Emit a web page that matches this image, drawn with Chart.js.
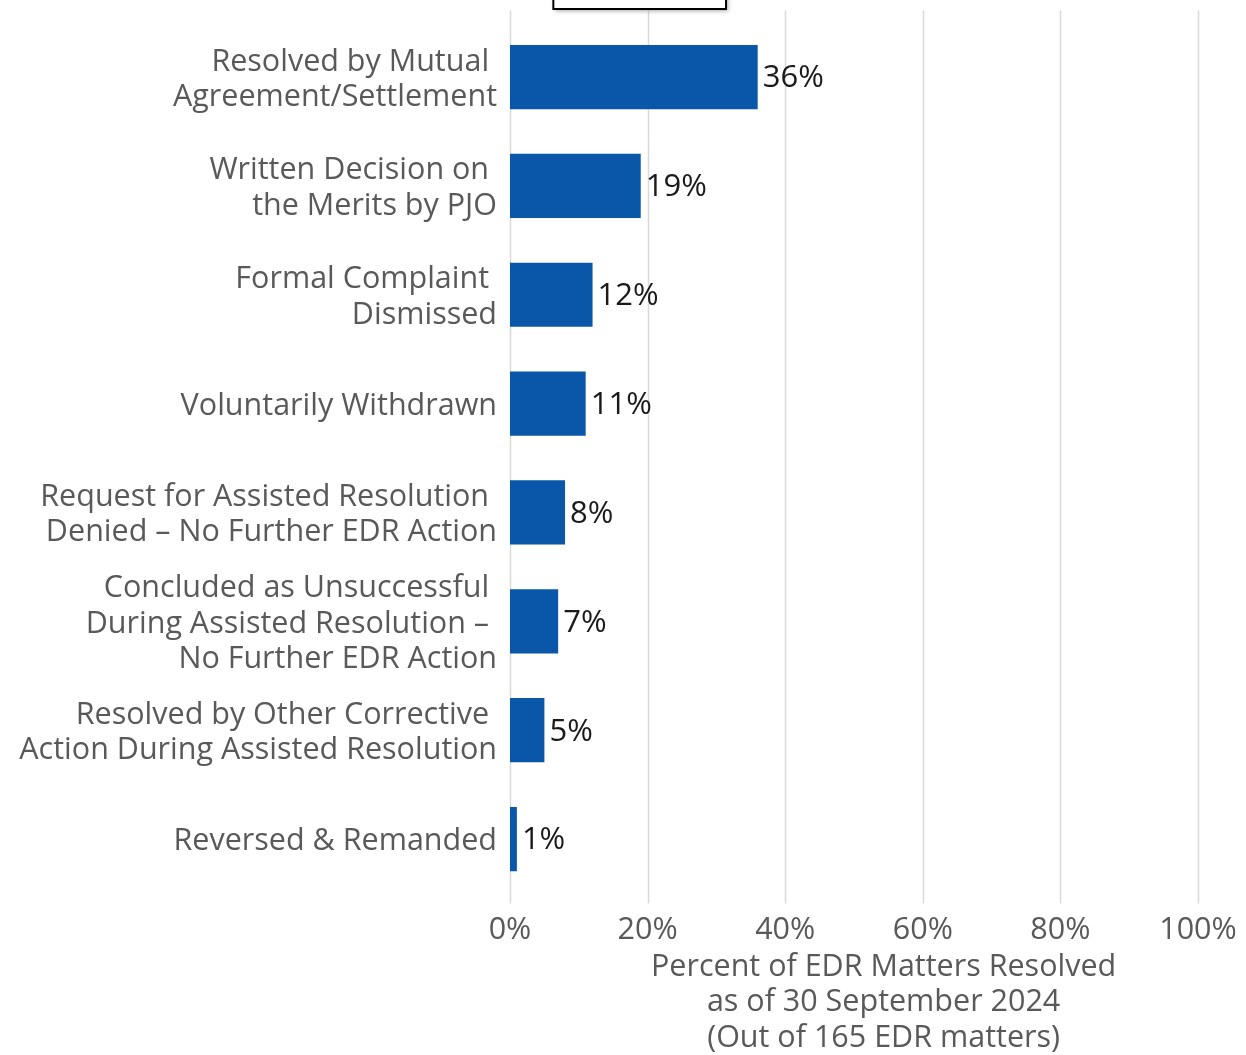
<!DOCTYPE html>
<html>
<head>
<meta charset="utf-8">
<script src="https://cdn.jsdelivr.net/npm/chart.js@4.4.1/dist/chart.umd.min.js"></script>
<style>
  html, body { margin: 0; padding: 0; background: #ffffff; }
  #wrap { width: 1246px; height: 1055px; position: relative; }
</style>
</head>
<body>
<div id="wrap"><canvas id="chart" width="1246" height="1055"></canvas></div>
<script>
// Outcome categories (multi-line labels, top to bottom)
const categories = [
  ["Resolved by Mutual ", "Agreement/Settlement"],
  ["Written Decision on ", "the Merits by PJO"],
  ["Formal Complaint ", "Dismissed"],
  ["Voluntarily Withdrawn"],
  ["Request for Assisted Resolution ", "Denied \u2013 No Further EDR Action"],
  ["Concluded as Unsuccessful ", "During Assisted Resolution \u2013 ", "No Further EDR Action"],
  ["Resolved by Other Corrective ", "Action During Assisted Resolution"],
  ["Reversed & Remanded"]
];

// Percent of EDR matters resolved
const percentResolved = [36, 19, 12, 11, 8, 7, 5, 1];

// X axis ticks
const xTickValues = [0, 20, 40, 60, 80, 100];

// Axis title lines
const xTitleLines = [
  "Percent of EDR Matters Resolved",
  "as of 30 September 2024",
  "(Out of 165 EDR matters)"
];

const FONT = "'Open Sans', 'Noto Sans', sans-serif";
const GREY_TEXT = '#595959';
const BAR_BLUE = '#0a56a9';
const TEXT_SIZE = 30.5;

// Vertical gridlines + tick marks, extended slightly above the plot
const gridPlugin = {
  id: 'gridPlugin',
  beforeDatasetsDraw(chart) {
    const { ctx, chartArea, scales } = chart;
    ctx.save();
    ctx.strokeStyle = '#d9d9d9';
    ctx.lineWidth = 1.5;
    xTickValues.forEach(v => {
      const x = Math.round(scales.x.getPixelForValue(v)) + 0.5;
      ctx.beginPath();
      ctx.moveTo(x, chartArea.top - 12);
      ctx.lineTo(x, chartArea.bottom + 10);
      ctx.stroke();
    });
    ctx.restore();
  }
};

// Value labels at bar ends, axis title and the header box
const annotatePlugin = {
  id: 'annotatePlugin',
  afterDatasetsDraw(chart) {
    const { ctx, chartArea, scales } = chart;
    const meta = chart.getDatasetMeta(0);
    ctx.save();
    ctx.font = "31px " + FONT;
    ctx.fillStyle = '#1a1a1a';
    ctx.textAlign = 'left';
    ctx.textBaseline = 'middle';
    meta.data.forEach((bar, i) => {
      ctx.fillText(percentResolved[i] + '%', bar.x + 5, bar.y + 1.5);
    });

    // axis title, three centred lines
    ctx.font = TEXT_SIZE + "px " + FONT;
    ctx.fillStyle = GREY_TEXT;
    ctx.textAlign = 'center';
    const cx = scales.x.getPixelForValue(54.3);
    xTitleLines.forEach((line, i) => {
      ctx.fillText(line, cx, chartArea.bottom + 73.5 + i * 35.5);
    });

    // empty header box with shadow
    const bx = scales.x.getPixelForValue(6.3);
    const bw = scales.x.getPixelForValue(31.4) - bx;
    ctx.shadowColor = 'rgba(0,0,0,0.35)';
    ctx.shadowBlur = 4;
    ctx.shadowOffsetX = 2;
    ctx.shadowOffsetY = 2;
    ctx.fillStyle = '#ffffff';
    ctx.fillRect(bx, -5, bw, 14);
    ctx.shadowColor = 'transparent';
    ctx.strokeStyle = '#000000';
    ctx.lineWidth = 2;
    ctx.strokeRect(bx, -5, bw, 14);
    ctx.restore();
  }
};

new Chart(document.getElementById('chart'), {
  type: 'bar',
  data: {
    labels: categories,
    datasets: [{
      data: percentResolved,
      backgroundColor: BAR_BLUE,
      borderWidth: 0,
      categoryPercentage: 1,
      barPercentage: 0.59
    }]
  },
  options: {
    indexAxis: 'y',
    responsive: false,
    animation: false,
    layout: { padding: { top: 22.6, right: 48, left: 0, bottom: 0 } },
    plugins: {
      legend: { display: false },
      tooltip: { enabled: false }
    },
    scales: {
      x: {
        min: 0,
        max: 100,
        afterBuildTicks(scale) {
          scale.ticks = xTickValues.map(v => ({ value: v }));
        },
        grid: { display: false, drawTicks: false },
        border: { display: false },
        ticks: {
          padding: 19,
          color: GREY_TEXT,
          font: { family: FONT, size: TEXT_SIZE },
          callback: v => v + '%'
        },
        afterFit(scale) {
          scale.height = 1055 - 893.5;
          scale.paddingLeft = 0;
          scale.paddingRight = 0;
        }
      },
      y: {
        grid: { display: false, drawTicks: false },
        border: { display: false },
        ticks: {
          padding: 13,
          labelOffset: 2.5,
          color: GREY_TEXT,
          font: { family: FONT, size: TEXT_SIZE, lineHeight: 1.16 },
          autoSkip: false
        },
        afterFit(scale) {
          scale.width = 510;
          scale.paddingTop = 0;
          scale.paddingBottom = 0;
        }
      }
    }
  },
  plugins: [gridPlugin, annotatePlugin]
});
</script>
</body>
</html>
